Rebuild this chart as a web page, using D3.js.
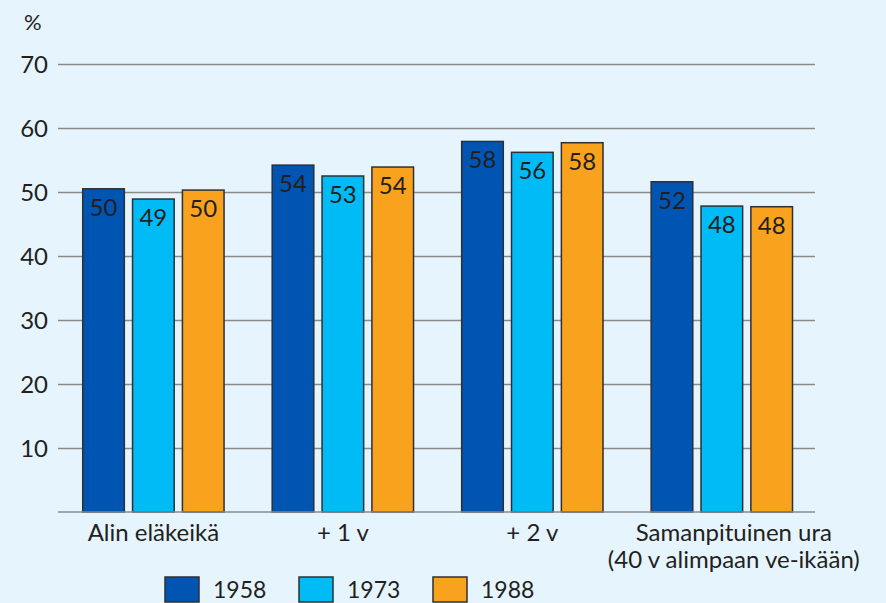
<!DOCTYPE html>
<html>
<head>
<meta charset="utf-8">
<script src="https://cdn.jsdelivr.net/npm/d3@7"></script>
<style>
  body { margin: 0; background: #e6f5fd; }
  text { font-family: Lato, "Open Sans", sans-serif; fill: #231f20; }
</style>
</head>
<body>
<svg id="chart"></svg>
<script>
const categories = ["Alin eläkeikä", "+ 1 v", "+ 2 v", "Samanpituinen ura|(40 v alimpaan ve-ikään)"];
const series = ["1958", "1973", "1988"];
const values1958 = [50.5, 54.2, 57.9, 51.6];
const values1973 = [48.9, 52.5, 56.2, 47.8];
const values1988 = [50.3, 53.9, 57.7, 47.7];
const labels1958 = ["50", "54", "58", "52"];
const labels1973 = ["49", "53", "56", "48"];
const labels1988 = ["50", "54", "58", "48"];
const yTicks = [10, 20, 30, 40, 50, 60, 70];

const colors = { "1958": "#0055b3", "1973": "#00bbf5", "1988": "#f8a21d" };
const valueMap = { "1958": values1958, "1973": values1973, "1988": values1988 };
const labelMap = { "1958": labels1958, "1973": labels1973, "1988": labels1988 };

const width = 886;
const height = 603;

const svg = d3.select("#chart")
  .attr("width", width)
  .attr("height", height);

svg.append("rect")
  .attr("width", width)
  .attr("height", height)
  .attr("fill", "#e6f5fd");

const x0 = d3.scaleBand()
  .domain(categories)
  .range([82.7, 792.5])
  .paddingInner(0.254)
  .paddingOuter(0);

const x1 = d3.scaleBand()
  .domain(series)
  .range([0, x0.bandwidth()])
  .paddingInner(0.165);

const y = d3.scaleLinear()
  .domain([0, 70])
  .range([512, 64]);

// gridlines + y labels
const yAxis = d3.axisLeft(y)
  .tickValues(yTicks)
  .tickSize(-(815 - 58))
  .tickPadding(10);

const yg = svg.append("g")
  .attr("transform", "translate(58,0)")
  .call(yAxis);
yg.select(".domain").remove();
yg.selectAll(".tick line").attr("stroke", "#8a8a8a").attr("stroke-width", 1.3);
yg.selectAll(".tick text")
  .attr("x", -10)
  .attr("dy", "0.36em")
  .attr("font-size", 24)
  .style("font-family", "Lato, sans-serif")
  .attr("fill", "#231f20");

svg.append("text")
  .attr("x", 24)
  .attr("y", 30)
  .attr("font-size", 22)
  .text("%");

// bars
const groups = svg.selectAll("g.group")
  .data(categories)
  .join("g")
  .attr("class", "group")
  .attr("transform", d => `translate(${x0(d)},0)`);

groups.selectAll("rect")
  .data((d, i) => series.map(s => ({ s, v: valueMap[s][i] })))
  .join("rect")
  .attr("x", d => x1(d.s))
  .attr("y", d => y(d.v))
  .attr("width", x1.bandwidth())
  .attr("height", d => y(0) - y(d.v))
  .attr("fill", d => colors[d.s])
  .attr("stroke", "#2e3033")
  .attr("stroke-width", 1.5);

groups.selectAll("text.val")
  .data((d, i) => series.map(s => ({ s, v: valueMap[s][i], l: labelMap[s][i] })))
  .join("text")
  .attr("class", "val")
  .attr("x", d => x1(d.s) + x1.bandwidth() / 2)
  .attr("y", d => y(d.v) + 27)
  .attr("text-anchor", "middle")
  .attr("font-size", 24)
  .text(d => d.l);

// baseline
svg.append("line")
  .attr("x1", 58).attr("x2", 815)
  .attr("y1", y(0)).attr("y2", y(0))
  .attr("stroke", "#8a8a8a")
  .attr("stroke-width", 1.5);

// category labels
categories.forEach((c, i) => {
  const lines = c.split("|");
  const cx = x0(c) + x0.bandwidth() / 2 + (lines.length > 1 ? 12 : 0);
  lines.forEach((ln, j) => {
    svg.append("text")
      .attr("x", cx)
      .attr("y", 541 + j * 27)
      .attr("text-anchor", "middle")
      .attr("font-size", 24)
      .text(ln);
  });
});

// legend
const legend = svg.selectAll("g.legend")
  .data(series)
  .join("g")
  .attr("class", "legend")
  .attr("transform", (d, i) => `translate(${165 + i * 134},577)`);

legend.append("rect")
  .attr("width", 34)
  .attr("height", 25)
  .attr("fill", d => colors[d])
  .attr("stroke", "#2e3033")
  .attr("stroke-width", 1.5);

legend.append("text")
  .attr("x", 48)
  .attr("y", 20.5)
  .attr("font-size", 23)
  .text(d => d);
</script>
</body>
</html>
